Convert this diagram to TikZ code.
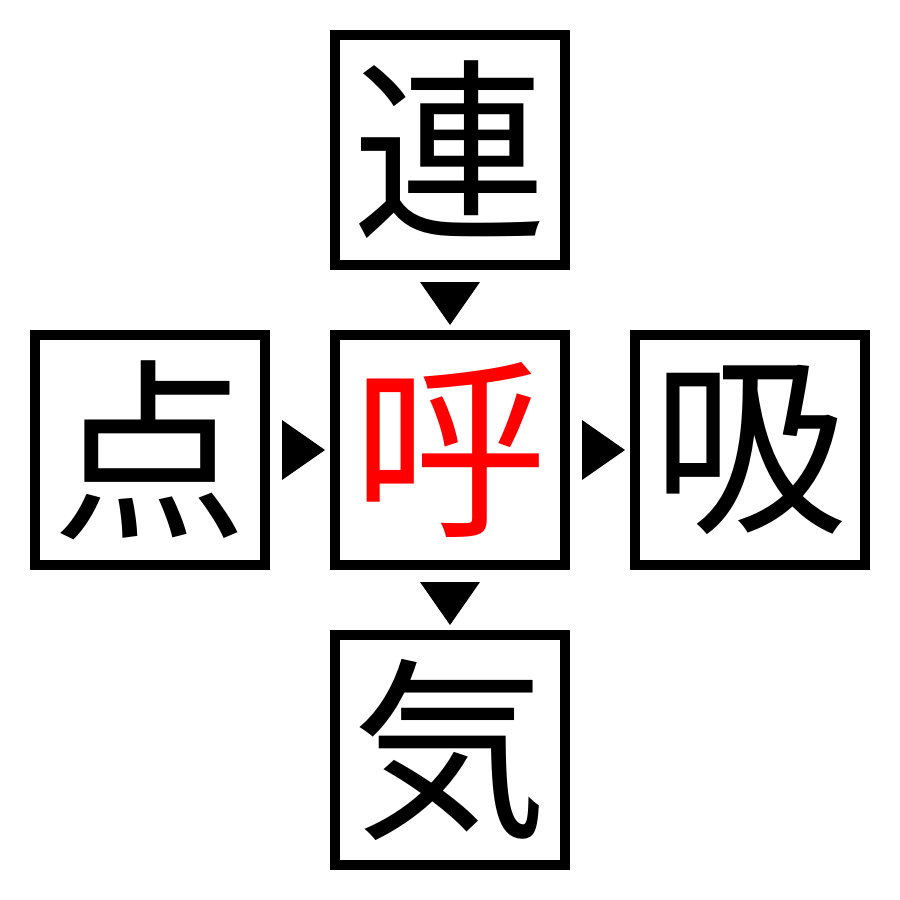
\documentclass[tikz,border=0pt]{standalone}
\usepackage{fontspec}
\newfontfamily\cjk{Noto Sans CJK JP}
\begin{document}
\begin{tikzpicture}[x=1pt,y=-1pt,
  kbox/.style={draw=black,line width=10pt,minimum width=230pt,minimum height=230pt,inner sep=0pt,font=\cjk\fontsize{195}{195}\selectfont},
  tri/.style={fill=black}]
\useasboundingbox (0,0) rectangle (900,900);
\fill[white] (0,0) rectangle (900,900);
\node[kbox] (top) at (450,150) {連};
\node[kbox] (left) at (150,450) {点};
\node[kbox,text=red] (mid) at (450,450) {呼};
\node[kbox] (right) at (750,450) {吸};
\node[kbox] (bot) at (450,750) {気};
% down arrows
\fill[tri] ([xshift=-30pt,yshift=-12pt]top.south) -- ([xshift=30pt,yshift=-12pt]top.south) -- ([yshift=5pt]mid.north) -- cycle;
\fill[tri] ([xshift=-30pt,yshift=-12pt]mid.south) -- ([xshift=30pt,yshift=-12pt]mid.south) -- ([yshift=5pt]bot.north) -- cycle;
% right arrows
\fill[tri] ([xshift=12pt,yshift=30pt]left.east) -- ([xshift=12pt,yshift=-30pt]left.east) -- ([xshift=-5pt]mid.west) -- cycle;
\fill[tri] ([xshift=12pt,yshift=30pt]mid.east) -- ([xshift=12pt,yshift=-30pt]mid.east) -- ([xshift=-5pt]right.west) -- cycle;
\end{tikzpicture}
\end{document}
